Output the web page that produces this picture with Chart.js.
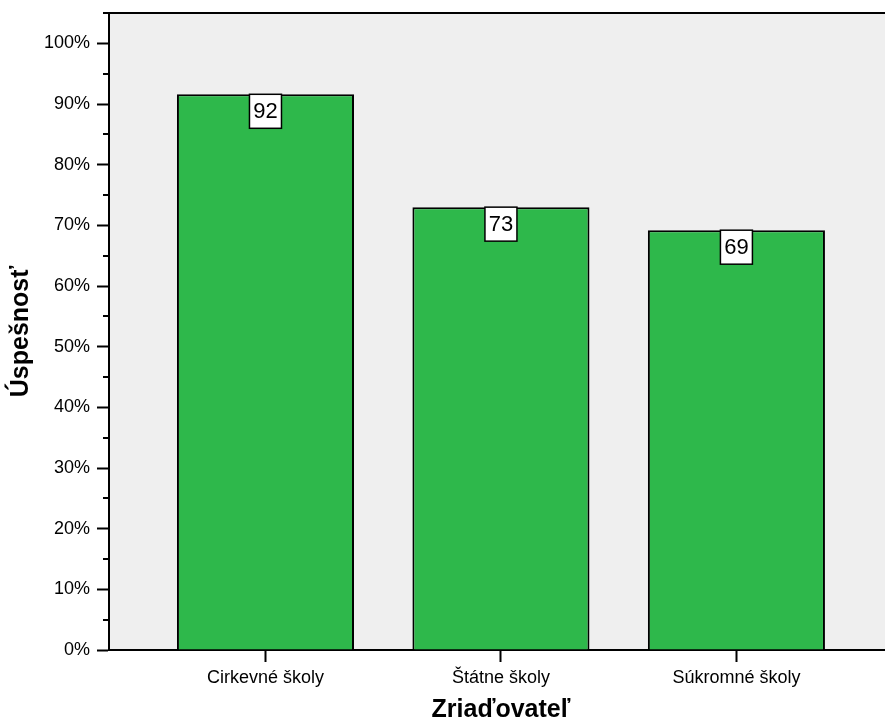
<!DOCTYPE html>
<html>
<head>
<meta charset="utf-8">
<script src="https://cdn.jsdelivr.net/npm/chart.js@4/dist/chart.umd.min.js"></script>
<style>
  html, body { margin: 0; padding: 0; background: #fff; overflow: hidden; }
  #wrap { width: 885px; height: 722px; position: relative; }
</style>
</head>
<body>
<div id="wrap"><canvas id="myChart"></canvas></div>
<script>
var categories = ['Cirkevné školy', 'Štátne školy', 'Súkromné školy'];
var values = [91.6, 73.0, 69.2];
var valueLabels = ['92', '73', '69'];
var yMajorTicks = [0, 10, 20, 30, 40, 50, 60, 70, 80, 90, 100];
var yMinorTicks = [5, 15, 25, 35, 45, 55, 65, 75, 85, 95, 105];
var xTitle = 'Zriaďovateľ';
var yTitle = 'Úspešnosť';

const FONT = "'Liberation Sans', Arial, sans-serif";

// plot background, top border, minor ticks, axis titles
var framePlugin = {
  id: 'frame',
  beforeDraw: function(chart) {
    var ctx = chart.ctx, a = chart.chartArea;
    ctx.save();
    ctx.fillStyle = '#efefef';
    ctx.fillRect(a.left, a.top, a.right - a.left, a.bottom - a.top);
    ctx.restore();
  },
  afterDraw: function(chart) {
    var ctx = chart.ctx, a = chart.chartArea;
    var y = chart.scales.y, x = chart.scales.x;
    ctx.save();
    ctx.strokeStyle = '#000';
    ctx.lineWidth = 2;
    ctx.beginPath();
    ctx.moveTo(a.left - 1, a.top);
    ctx.lineTo(a.right, a.top);
    ctx.stroke();
    yMinorTicks.forEach(function(v) {
      var py = Math.round(y.getPixelForValue(v));
      ctx.beginPath();
      ctx.moveTo(a.left - 6, py);
      ctx.lineTo(a.left, py);
      ctx.stroke();
    });
    ctx.fillStyle = '#000';
    ctx.font = 'bold 25px ' + FONT;
    ctx.textAlign = 'center';
    ctx.textBaseline = 'middle';
    ctx.fillText(xTitle, x.getPixelForValue(1), 710);
    ctx.translate(21, (a.top + a.bottom) / 2);
    ctx.rotate(-Math.PI / 2);
    ctx.fillText(yTitle, 0, 0);
    ctx.restore();
  }
};

// white boxed value labels hanging from the bar tops
var labelPlugin = {
  id: 'valueBoxes',
  afterDatasetsDraw: function(chart) {
    var ctx = chart.ctx;
    var meta = chart.getDatasetMeta(0);
    ctx.save();
    ctx.font = '22px ' + FONT;
    ctx.textAlign = 'center';
    ctx.textBaseline = 'middle';
    meta.data.forEach(function(bar, i) {
      var w = 32, h = 34;
      var bx = bar.x - w / 2, by = bar.y;
      ctx.fillStyle = '#fff';
      ctx.fillRect(bx, by, w, h);
      ctx.strokeStyle = '#000';
      ctx.lineWidth = 1.5;
      ctx.strokeRect(bx, by, w, h);
      ctx.fillStyle = '#000';
      ctx.fillText(valueLabels[i], bar.x, by + h / 2 + 1);
    });
    ctx.restore();
  }
};

var ctx = document.getElementById('myChart').getContext('2d');
window.myBarChart = new Chart(ctx, {
  type: 'bar',
  data: {
    datasets: [{
      data: values.map(function(v, i) { return { x: i, y: v }; }),
      backgroundColor: '#2eb84b',
      borderColor: '#000',
      borderWidth: 2,
      categoryPercentage: 1,
      barPercentage: 0.752
    }]
  },
  options: {
    responsive: true,
    maintainAspectRatio: false,
    animation: false,
    layout: { padding: { top: 13, left: 0, right: 0, bottom: 0 } },
    plugins: {
      legend: { display: false },
      tooltip: { enabled: false }
    },
    scales: {
      x: {
        type: 'linear',
        offset: false,
        min: -0.6645,
        max: 2.631,
        afterBuildTicks: function(axis) {
          axis.ticks = categories.map(function(c, i) { return { value: i }; });
        },
        afterFit: function(axis) {
          axis.height = 72;
          axis.paddingLeft = 0;
          axis.paddingRight = 0;
        },
        grid: { offset: false, drawOnChartArea: false, drawTicks: true, tickLength: 12, tickWidth: 2, color: '#000' },
        border: { display: true, color: '#000', width: 2 },
        ticks: {
          color: '#000',
          padding: 5,
          maxRotation: 0,
          autoSkip: false,
          font: { family: FONT, size: 18 },
          callback: function(v) { return categories[v]; }
        }
      },
      y: {
        min: 0,
        max: 105,
        afterBuildTicks: function(axis) {
          axis.ticks = yMajorTicks.map(function(v) { return { value: v }; });
        },
        afterFit: function(axis) {
          axis.width = 109;
          axis.paddingTop = 0;
          axis.paddingBottom = 0;
        },
        grid: { drawOnChartArea: false, drawTicks: true, tickLength: 12, tickWidth: 2, color: '#000' },
        border: { display: true, color: '#000', width: 2 },
        ticks: {
          color: '#000',
          padding: 7,
          font: { family: FONT, size: 18 },
          callback: function(v) { return v + '%'; }
        }
      }
    }
  },
  plugins: [framePlugin, labelPlugin]
});
</script>
</body>
</html>
